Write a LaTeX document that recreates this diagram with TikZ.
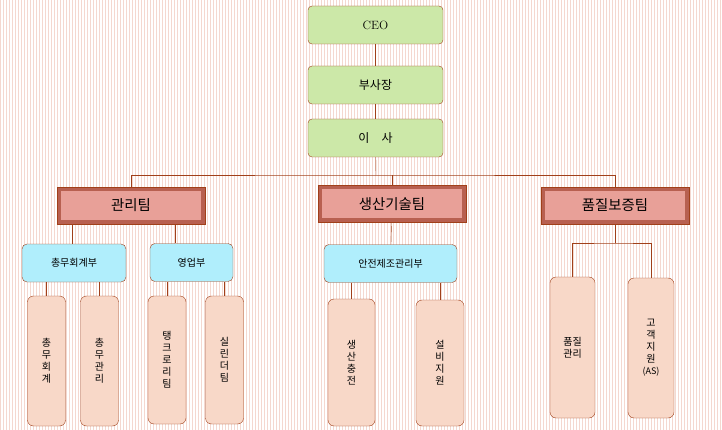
\documentclass[tikz,border=0pt]{standalone}
\usepackage{fontspec}
\newfontfamily\kr{Noto Sans CJK KR}
\definecolor{lineC}{HTML}{A0401A}
\definecolor{topC}{HTML}{CCE8A8}
\definecolor{teamC}{HTML}{E8A098}
\definecolor{teamD}{HTML}{B86050}
\definecolor{deptC}{HTML}{B0EEFC}
\definecolor{leafC}{HTML}{F8D8C8}
\definecolor{stripeC}{HTML}{F4D8D0}
\usetikzlibrary{positioning}
\tikzset{
  topbox/.style={draw=lineC,fill=topC,rounded corners=4pt,minimum width=135pt,minimum height=38pt,font=\kr\large},
  teambox/.style={draw=lineC,fill=teamD,minimum width=148pt,minimum height=37pt,font=\kr\Large},
  deptbox/.style={draw=lineC,fill=deptC,rounded corners=5pt,minimum height=38pt,font=\kr},
  leafbox/.style={draw=lineC,fill=leafC,rounded corners=6pt,minimum width=38pt,align=center,font=\kr},
  conn/.style={draw=lineC,thin}
}
\begin{document}
\begin{tikzpicture}[x=1pt,y=-1pt]
\useasboundingbox (0,0) rectangle (722,430);
\foreach \i in {0,3,...,720} \draw[stripeC,line width=0.4pt] (\i,0) -- (\i,430);
% top levels
\node[topbox,font=\large] (ceo) at (375.5,25) {CEO};
\node[topbox] (vp) at (375.5,85) {부사장};
\node[topbox] (dir) at (375.5,138) {이\quad 사};
\draw[conn] (ceo) -- (vp);
\draw[conn] (vp) -- (dir);
% teams
\node[teambox] (mgmt) at (131,205.5) {};
\node[teambox] (prod) at (392,204) {};
\node[teambox] (qa) at (615,205.5) {};
\foreach \t/\s in {mgmt/관리팀,prod/생산기술팀,qa/품질보증팀}
  \node[fill=teamC,minimum width=140pt,minimum height=29pt,font=\kr\Large] at (\t) {\s};
\coordinate (bus) at (376,175);
\draw[conn] (dir) -- (bus);
\draw[conn] (mgmt.north) |- (bus) -| (qa.north);
\draw[conn] (prod.north) -- (prod.north |- bus);
% departments
\node[deptbox,minimum width=104pt] (acc) at (74,263) {총무회계부};
\node[deptbox,minimum width=83pt] (sales) at (191.5,262.5) {영업부};
\node[deptbox,minimum width=133pt] (safe) at (390.5,263.5) {안전제조관리부};
\draw[conn] (acc.north -| 72,0) -- (72,224);
\draw[conn] (sales.north -| 175,0) -- (175,224);
\draw[conn] (safe) -- (prod);
% leaves
\node[leafbox,minimum height=130pt] (l1) at (46.5,361) {총\\무\\회\\계};
\node[leafbox,minimum height=130pt] (l2) at (99.5,361) {총\\무\\관\\리};
\node[leafbox,minimum height=128pt] (l3) at (167,360) {탱\\크\\로\\리\\팀};
\node[leafbox,minimum height=128pt] (l4) at (224.5,360) {실\\린\\더\\팀};
\node[leafbox,minimum width=47pt,minimum height=127pt] (l5) at (351.5,362.5) {생\\산\\충\\전};
\node[leafbox,minimum width=48pt,minimum height=126pt] (l6) at (440,363) {설\\비\\지\\원};
\node[leafbox,minimum width=45pt,minimum height=141pt] (l7) at (572.5,347.5) {품질\\관리};
\node[leafbox,minimum width=46pt,minimum height=140pt] (l8) at (651,348) {고\\객\\지\\원\\{\small(AS)}};
\foreach \l/\p in {l1/acc,l2/acc,l3/sales,l4/sales,l5/safe,l6/safe}
  \draw[conn] (\l.north) -- (\l.north |- \p.south);
\coordinate (qbus) at (615,243);
\draw[conn] (qa) -- (qbus);
\draw[conn] (l7.north) |- (qbus) -| (l8.north);
\end{tikzpicture}
\end{document}
